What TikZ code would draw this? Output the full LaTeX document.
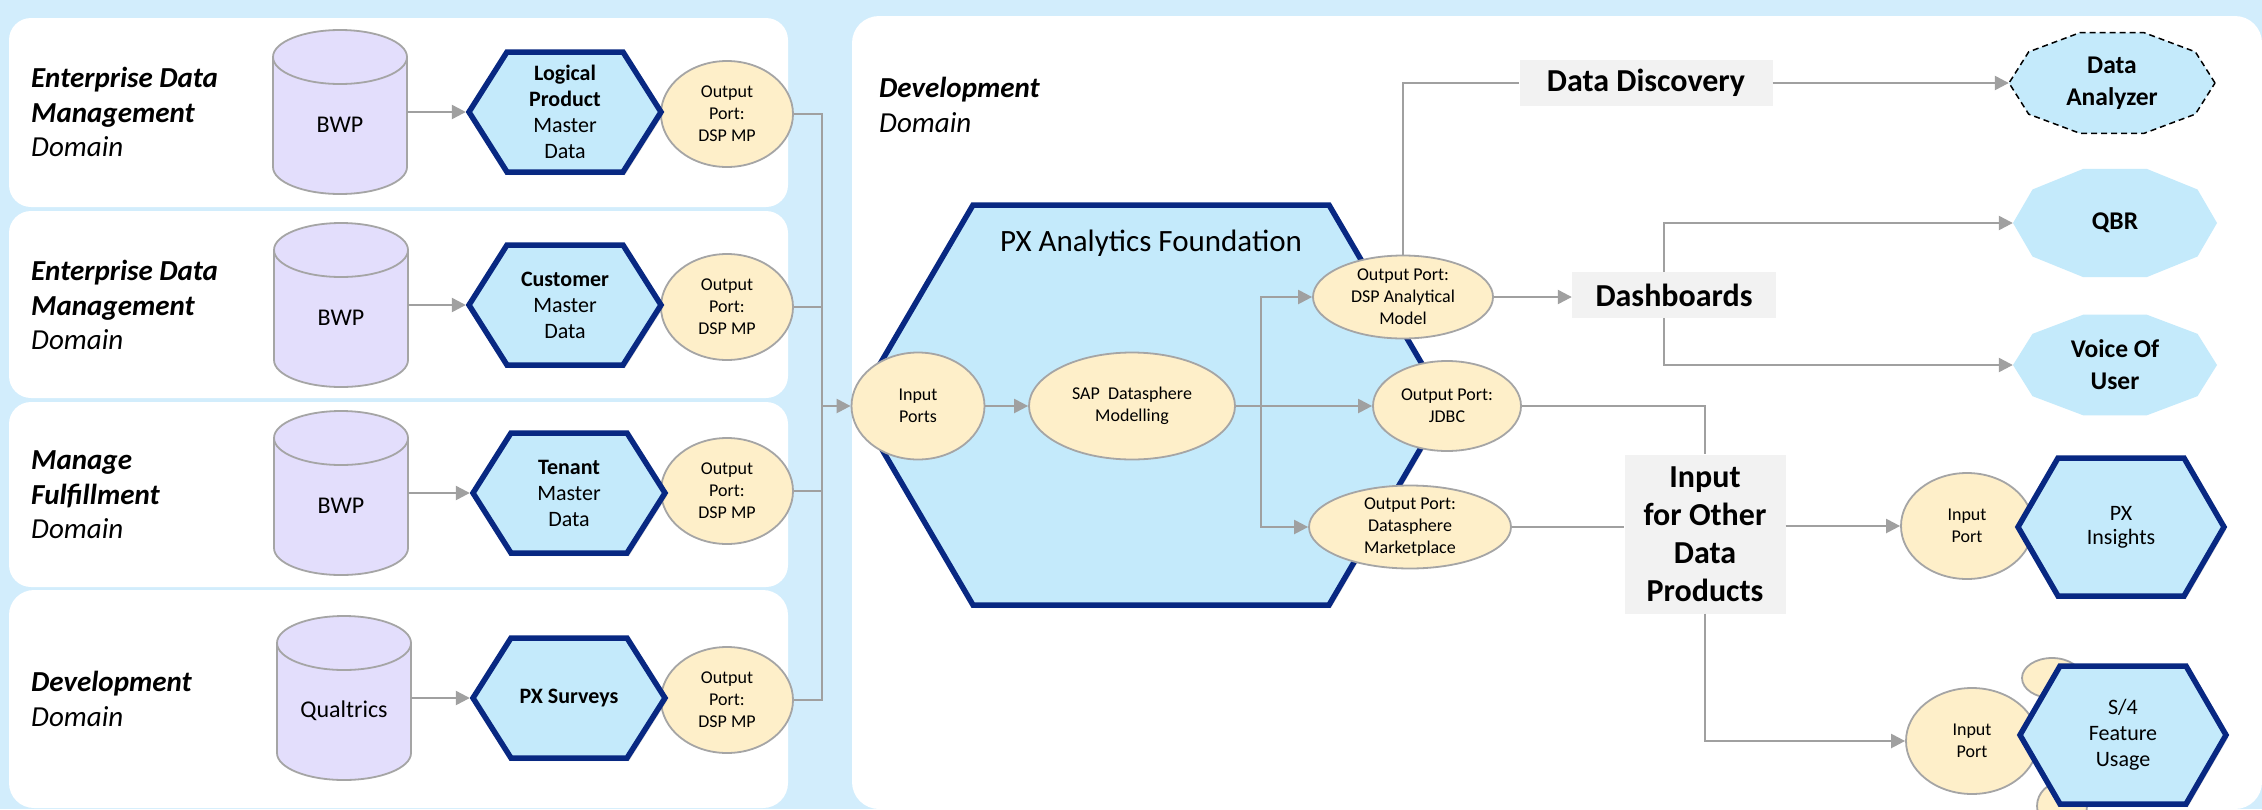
\documentclass[tikz,border=0pt]{standalone}
\usepackage{fontspec}
\setmainfont{Carlito}
\usetikzlibrary{arrows.meta,shapes.geometric,shadows}
\definecolor{bgblue}{RGB}{210,237,252}
\definecolor{hexfill}{RGB}{196,234,251}
\definecolor{navy}{RGB}{8,40,130}
\definecolor{portfill}{RGB}{254,239,201}
\definecolor{portline}{RGB}{165,165,165}
\definecolor{dbfill}{RGB}{227,222,252}
\definecolor{linegray}{RGB}{160,160,160}
\definecolor{tagfill}{RGB}{242,242,242}

\newcommand\fsz[2]{\fontsize{#1}{#2}\selectfont}

\tikzset{
	panel/.style={fill=white,rounded corners=22},
	conn/.style={draw=linegray,line width=2.3},
	arr/.style={conn,-{Triangle[length=14pt,width=14pt]}},
	port/.style={ellipse,draw=portline,fill=portfill,line width=1.8,inner sep=0,minimum width=132,minimum height=106,align=center,font=\fsz{18}{22}},
	hexa/.style={draw=navy,fill=hexfill,line width=5.5,drop shadow={opacity=.25,shadow xshift=2pt,shadow yshift=-3pt}},
	dp/.style={inner sep=0,minimum width=198,minimum height=126,align=center,font=\fsz{22}{26}},
	db/.style={draw=portline,fill=dbfill,line width=1.8},
	dbname/.style={inner sep=0,font=\fsz{24}{28}},
	domlabel/.style={anchor=west,inner sep=0,align=left,font=\fsz{29}{34.5}\itshape},
	tag/.style={fill=tagfill,inner sep=0,align=center,font=\fsz{32}{38}\bfseries},
	deca/.style={fill=hexfill},
	decadash/.style={fill=hexfill,draw=black,line width=1.5,dash pattern=on 6pt off 4pt},
	usecase/.style={inner sep=0,minimum width=204,minimum height=106,align=center,font=\fsz{25.5}{32}\bfseries},
}

\newcommand\hexpath[5][hexa]{%
	\begin{scope}[shift={(#2)}]
		\path[#1] (-#3,0) -- (-#3+#5,#4) -- (#3-#5,#4) -- (#3,0) -- (#3-#5,-#4) -- (-#3+#5,-#4) -- cycle;
	\end{scope}}

\newcommand\dbcyl[2]{%
	\begin{scope}[shift={(#1)}]
		\path[db] (-67,55) -- (-67,-55) arc[start angle=180,end angle=360,x radius=67,y radius=27] -- (67,55) arc[start angle=0,end angle=180,x radius=67,y radius=27] -- cycle;
		\path[db,fill=none] (-67,55) arc[start angle=180,end angle=360,x radius=67,y radius=27];
		\coordinate (#2) at (67,0);
	\end{scope}}

\newcommand\decapath[4][deca]{%
	\begin{scope}[shift={(#2)}]
		\path[#1] (0:#3 and #4) \foreach \a in {36,72,...,324}{ -- (\a:#3 and #4)} -- cycle;
	\end{scope}}

\begin{document}
\begin{tikzpicture}[x=1pt,y=1pt]
	\useasboundingbox (0,0) rectangle (2262,-809);
	\fill[bgblue] (0,0) rectangle (2262,-809);
	\fill[panel] (9,-18) rectangle (788,-207);
	\fill[panel] (9,-211) rectangle (788,-398);
	\fill[panel] (9,-402) rectangle (788,-587);
	\fill[panel,rounded corners=25] (9,-590) rectangle (788,-808);
	\fill[panel,rounded corners=27] (852,-16) rectangle (2262,-809);

	\draw (31,-112) node (dom1)[domlabel]{\textbf{Enterprise Data}\\\textbf{Management}\\Domain};
	\draw (31,-305) node (dom2)[domlabel]{\textbf{Enterprise Data}\\\textbf{Management}\\Domain};
	\draw (31,-495) node (dom3)[domlabel]{\textbf{Manage}\\\textbf{Fulfillment}\\Domain};
	\draw (31,-699) node (dom4)[domlabel]{\textbf{Development}\\Domain};
	\draw (879,-105) node (dom5)[domlabel]{\textbf{Development}\\Domain};

	\dbcyl{340,-112}{db1}
	\dbcyl{341,-305}{db2}
	\dbcyl{341,-493}{db3}
	\dbcyl{344,-698}{db4}
	\draw (340,-125) node (bwp1)[dbname]{BWP};
	\draw (341,-318) node (bwp2)[dbname]{BWP};
	\draw (341,-506) node (bwp3)[dbname]{BWP};
	\draw (344,-711) node (qual)[dbname]{Qualtrics};

	\draw (727,-114) node (op1)[port]{Output\\Port:\\DSP MP};
	\draw (727,-307) node (op2)[port]{Output\\Port:\\DSP MP};
	\draw (727,-491) node (op3)[port]{Output\\Port:\\DSP MP};
	\draw (727,-700) node (op4)[port]{Output\\Port:\\DSP MP};

	\hexpath{565,-112}{96}{60}{38}
	\hexpath{565,-305}{96}{60}{38}
	\hexpath{569,-493}{96}{60}{38}
	\hexpath{569,-698}{96}{60}{38}
	\draw (565,-112) node (lpm)[dp]{\textbf{Logical}\\\textbf{Product}\\Master\\Data};
	\draw (565,-305) node (cmd)[dp]{\textbf{Customer}\\Master\\Data};
	\draw (569,-493) node (tmd)[dp]{\textbf{Tenant}\\Master\\Data};
	\draw (569,-698) node (pxs)[dp]{\textbf{PX Surveys}};
	\draw[arr] (db1) -- (lpm);
	\draw[arr] (db2) -- (cmd);
	\draw[arr] (db3) -- (tmd);
	\draw[arr] (db4) -- (pxs);

	\coordinate (bus) at (822,-406);
	\draw[conn] (op1.east) -- (op1.east -| bus) -- (op4.east -| bus) -- (op4.east);
	\draw[conn] (op2.east) -- (op2.east -| bus);
	\draw[conn] (op3.east) -- (op3.east -| bus);

	\hexpath{1151,-405}{295}{200}{117}
	\draw (1151,-243) node (pxaf)[font=\fsz{31}{36}]{PX Analytics Foundation};
	\draw (918,-406) node (inp)[port,minimum width=133,minimum height=107]{Input\\Ports};
	\draw (1132,-406) node (sapm)[port,minimum width=206,minimum height=107]{SAP~ Datasphere\\Modelling};
	\draw (1403,-297) node (dspam)[port,minimum width=180,minimum height=83]{Output Port:\\DSP Analytical\\Model};
	\draw (1447,-406) node (jdbc)[port,minimum width=148,minimum height=90]{Output Port:\\JDBC};
	\draw (1410,-527) node (dspmp)[port,minimum width=202,minimum height=83]{Output Port:\\Datasphere\\Marketplace};
	\coordinate (br) at (1261,-406);
	\draw[arr] (bus) -- (inp);
	\draw[arr] (inp) -- (sapm);
	\draw[arr] (sapm) -- (jdbc);
	\draw[arr] (br) |- (dspam);
	\draw[arr] (br) |- (dspmp);

	\draw (1646,-83) node (ddisc)[tag,minimum width=253,minimum height=46]{Data Discovery};
	\draw (1674,-295) node (dash)[tag,minimum width=204,minimum height=46]{Dashboards};
	\draw (1705,-534) node (ifodp)[tag,minimum width=161,minimum height=159]{Input\\for Other\\Data\\Products};

	\decapath[decadash]{2112,-83}{103}{53}
	\decapath{2115,-223}{102}{57}
	\decapath{2115,-365}{102}{53}
	\draw (2112,-83) node (dana)[usecase,minimum width=206]{Data\\Analyzer};
	\draw (2115,-223) node (qbr)[usecase]{QBR};
	\draw (2115,-365) node (vou)[usecase]{Voice Of\\User};

	\draw[conn] (dspam.north) |- (ddisc.west);
	\draw[arr] (ddisc.east) -- (dana);
	\draw[arr] (dspam.east) -- (dspam.east -| dash.west);
	\draw[arr] ([xshift=-10pt]dash.north) |- (qbr);
	\draw[arr] ([xshift=-10pt]dash.south) |- (vou);
	\draw[conn] (jdbc.east) -| (ifodp.north);
	\draw[conn] (dspmp.east) -- (dspmp.east -| ifodp.west);

	\draw (2052,-678) node (s4a)[port,minimum width=60,minimum height=40]{};
	\draw (2062,-806) node (s4b)[port,minimum width=50,minimum height=48]{};
	\draw (1967,-526) node (ip1)[port]{Input\\Port};
	\draw (1972,-741) node (ip2)[port]{Input\\Port};
	\hexpath{2121,-527}{103}{69}{40}
	\hexpath{2123,-735}{103}{69}{40}
	\draw (2121,-527) node (pxi)[dp,font=\fsz{22}{24}]{PX\\Insights};
	\draw (2123,-735) node (s4fu)[dp]{S/4\\Feature\\Usage};
	\draw[arr] (ifodp.east |- ip1) -- (ip1);
	\draw[arr] (ifodp.south) |- (ip2);
\end{tikzpicture}
\end{document}
